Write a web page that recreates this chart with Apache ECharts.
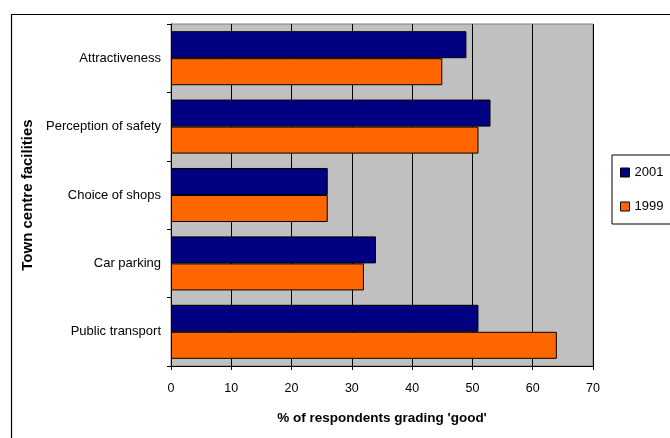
<!DOCTYPE html>
<html>
<head>
<meta charset="utf-8">
<script src="https://cdn.jsdelivr.net/npm/echarts@6/dist/echarts.min.js"></script>
<style>
html,body{margin:0;padding:0;background:#fff;}
#chart{width:670px;height:438px;}
</style>
</head>
<body>
<div id="chart"></div>
<script>
const categories = ['Attractiveness', 'Perception of safety', 'Choice of shops', 'Car parking', 'Public transport'];
const values2001 = [49, 53, 26, 34, 51];
const values1999 = [45, 51, 26, 32, 64];
const seriesNames = ['2001', '1999'];
const xTicks = [0, 10, 20, 30, 40, 50, 60, 70];

const FONT = '"Liberation Sans", Arial, sans-serif';
const chart = echarts.init(document.getElementById('chart'), null, {renderer: 'canvas'});
chart.setOption({
  animation: false,
  backgroundColor: '#fff',
  textStyle: {fontFamily: FONT, color: '#000'},
  graphic: [{
    type: 'rect', left: 9, top: 12, z: -1,
    shape: {width: 720, height: 500},
    style: {fill: 'none', stroke: '#000', lineWidth: 1.2}
  }],
  grid: {
    left: 171, right: 77, top: 24, bottom: 72,
    show: true, backgroundColor: '#C0C0C0', borderColor: '#808080', borderWidth: 1
  },
  legend: {
    orient: 'vertical',
    left: 612, top: 155,
    data: seriesNames,
    backgroundColor: '#fff',
    borderColor: '#000', borderWidth: 1,
    padding: [11, 30, 11, 8],
    itemWidth: 9, itemHeight: 9, itemGap: 21, itemTextGap: 3,
    icon: 'rect',
    itemStyle: {borderColor: '#000', borderWidth: 1},
    textStyle: {fontFamily: FONT, fontSize: 13, color: '#000'}
  },
  xAxis: {
    type: 'value', min: xTicks[0], max: xTicks[xTicks.length - 1], interval: 10,
    name: "% of respondents grading 'good'",
    nameLocation: 'middle', nameGap: 45,
    nameTextStyle: {fontFamily: FONT, fontSize: 13.5, fontWeight: 'bold', color: '#000'},
    axisLine: {show: true, lineStyle: {color: '#000', width: 1}},
    axisTick: {show: true, length: 4, lineStyle: {color: '#000'}},
    axisLabel: {fontFamily: FONT, fontSize: 12.5, color: '#000', margin: 16},
    splitLine: {show: true, lineStyle: {color: '#000', width: 1}}
  },
  yAxis: {
    type: 'category', data: categories, inverse: true,
    name: 'Town centre facilities',
    nameLocation: 'middle', nameGap: 131, nameRotate: 90,
    nameTextStyle: {fontFamily: FONT, fontSize: 15, fontWeight: 'bold', color: '#000'},
    axisLine: {show: true, lineStyle: {color: '#000', width: 1}},
    axisTick: {show: true, length: 4, lineStyle: {color: '#000'}},
    axisLabel: {fontFamily: FONT, fontSize: 13, color: '#000', margin: 10},
    splitLine: {show: false}
  },
  series: [
    {name: seriesNames[0], type: 'bar', data: values2001, barCategoryGap: '21%', barGap: '0%',
     itemStyle: {color: '#000080', borderColor: '#000', borderWidth: 1}},
    {name: seriesNames[1], type: 'bar', data: values1999, barCategoryGap: '21%', barGap: '0%',
     itemStyle: {color: '#FF6600', borderColor: '#000', borderWidth: 1}}
  ]
});
</script>
</body>
</html>
